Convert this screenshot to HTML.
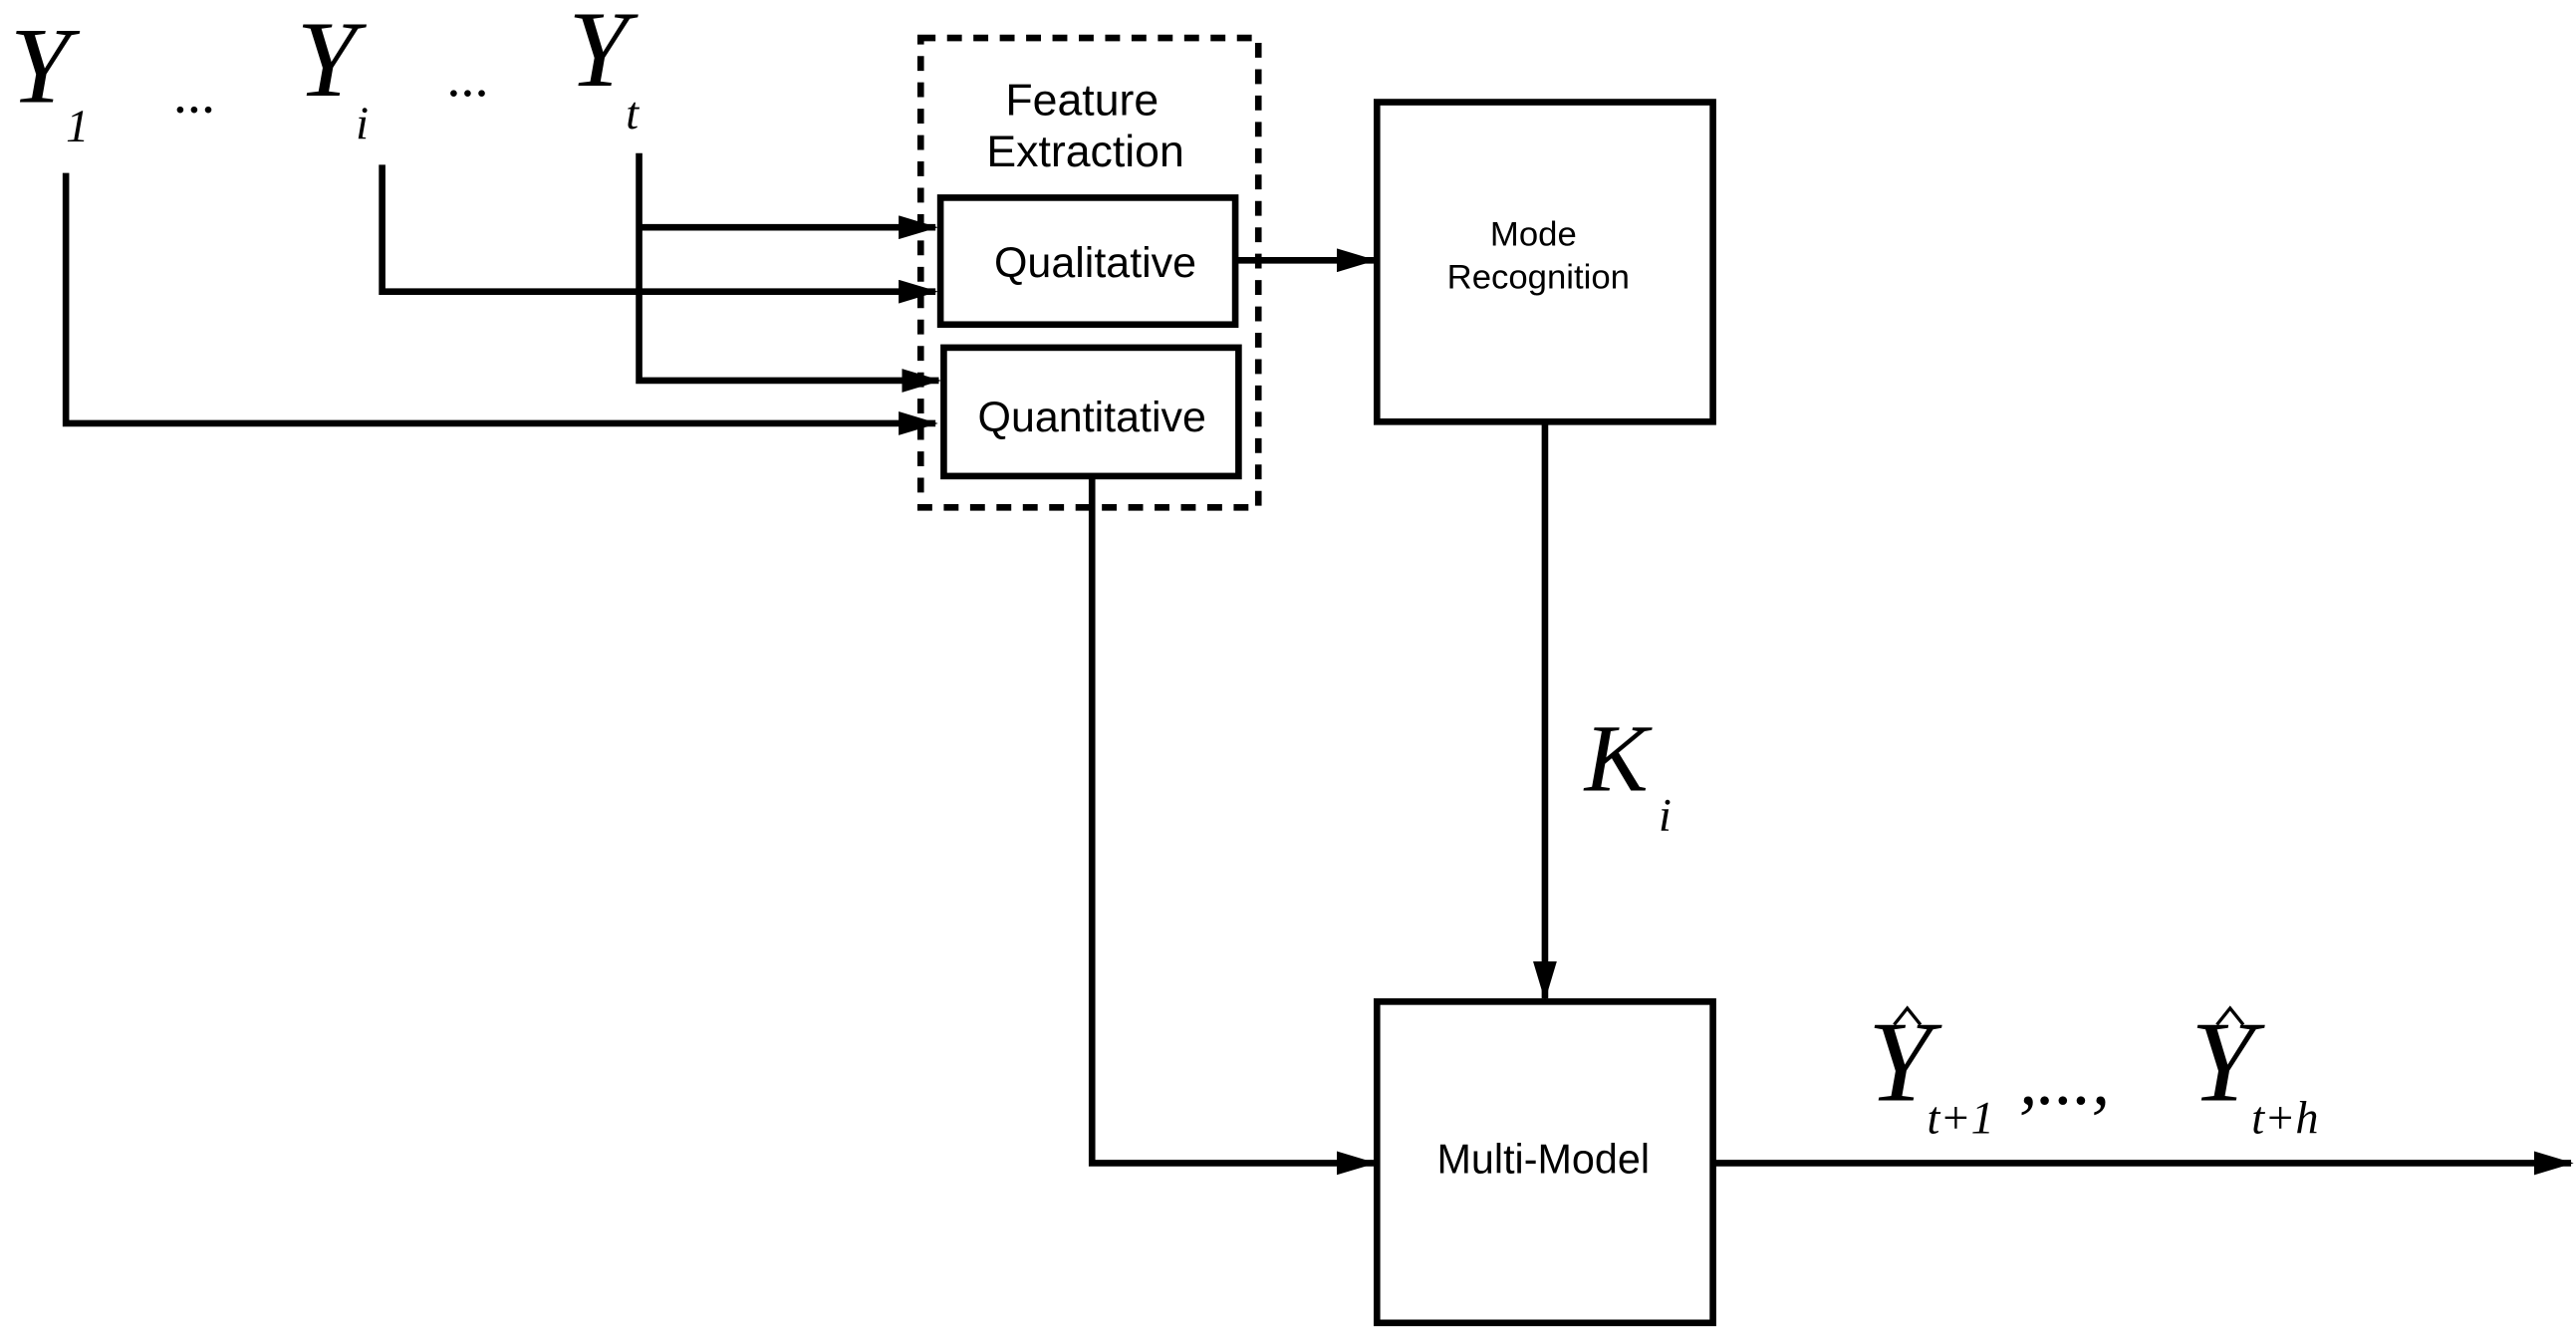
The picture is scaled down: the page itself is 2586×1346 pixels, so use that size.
<!DOCTYPE html>
<html><head><meta charset="utf-8"><style>
html,body{margin:0;padding:0;background:#fff;}
svg{display:block;}
.s{font-family:"Liberation Sans",sans-serif;}
.m{font-family:"Liberation Serif",serif;font-style:italic;}
</style></head><body>
<svg width="2586" height="1346" viewBox="0 0 1564 814" preserveAspectRatio="none" xmlns="http://www.w3.org/2000/svg">
<defs>
<marker id="a" markerWidth="6" markerHeight="3.6" refX="5.6" refY="1.8" orient="auto" markerUnits="strokeWidth">
<path d="M0,0 L6,1.8 L0,3.6 z" fill="#000"/>
</marker>
</defs>
<g stroke="#000" stroke-width="4" fill="none">
<rect x="559" y="23" width="205" height="285" stroke-dasharray="9,7" stroke-width="4"/>
<rect x="571" y="120" width="179" height="77"/>
<rect x="573" y="211" width="179" height="78"/>
<rect x="836" y="62" width="204" height="194"/>
<rect x="836" y="608" width="204" height="195"/>
<polyline points="40,105 40,257 568,257" marker-end="url(#a)"/>
<polyline points="232,100 232,177 568,177" marker-end="url(#a)"/>
<polyline points="388,93 388,231 570,231" marker-end="url(#a)"/>
<line x1="388" y1="138" x2="568" y2="138" marker-end="url(#a)"/>
<line x1="750" y1="158" x2="834" y2="158" marker-end="url(#a)"/>
<line x1="938" y1="256" x2="938" y2="606" marker-end="url(#a)"/>
<polyline points="663,289 663,706 834,706" marker-end="url(#a)"/>
<line x1="1040" y1="706" x2="1561" y2="706" marker-end="url(#a)"/>
<path d="M1150,622 L1158,612 L1166,622" stroke-width="2"/>
<path d="M1346,622 L1354,612 L1362,622" stroke-width="2"/>
</g>
<g fill="#000">
<text class="m" x="6" y="62" font-size="66">Y</text>
<text class="m" x="40" y="86" font-size="28">1</text>
<text class="m" x="106" y="68" font-size="34">...</text>
<text class="m" x="180" y="58" font-size="66">Y</text>
<text class="m" x="216" y="84" font-size="28">i</text>
<text class="m" x="272" y="58" font-size="34">...</text>
<text class="m" x="345" y="52" font-size="66">Y</text>
<text class="m" x="380" y="78" font-size="28">t</text>
<text class="s" x="657" y="70" font-size="27" text-anchor="middle">Feature</text>
<text class="s" x="659" y="101" font-size="27" text-anchor="middle">Extraction</text>
<text class="s" x="665" y="168" font-size="26" text-anchor="middle">Qualitative</text>
<text class="s" x="663" y="262" font-size="26" text-anchor="middle">Quantitative</text>
<text class="s" x="931" y="149" font-size="21" text-anchor="middle">Mode</text>
<text class="s" x="934" y="175" font-size="21" text-anchor="middle">Recognition</text>
<text class="s" x="937" y="712" font-size="25" text-anchor="middle">Multi-Model</text>
<text class="m" x="962" y="480" font-size="58">K</text>
<text class="m" x="1007" y="504" font-size="28">i</text>
<text class="m" x="1134" y="668" font-size="70">Y</text>
<text class="m" x="1170" y="688" font-size="28">t+1</text>
<text class="m" x="1226" y="670" font-size="44">,...,</text>
<text class="m" x="1330" y="668" font-size="70">Y</text>
<text class="m" x="1367" y="688" font-size="28">t+h</text>
</g>
</svg>
</body></html>
